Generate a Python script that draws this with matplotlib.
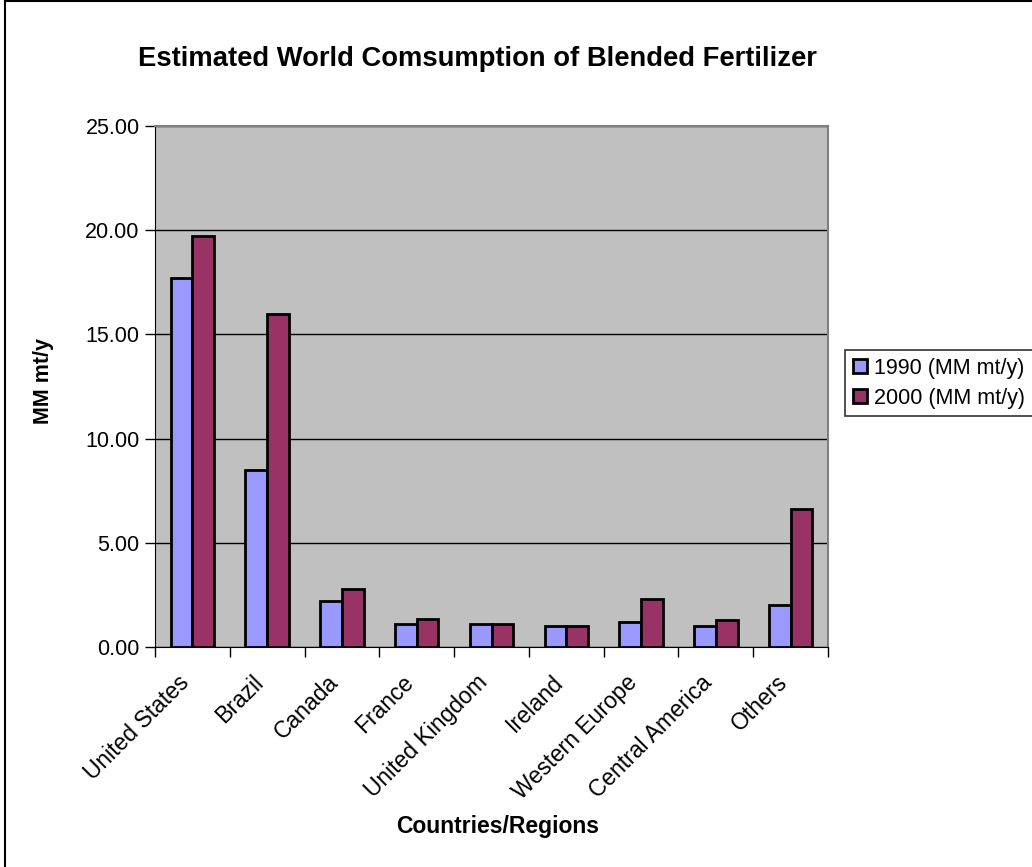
import matplotlib
matplotlib.use("Agg")
from matplotlib import pyplot as plt
from matplotlib.lines import Line2D
from matplotlib.transforms import ScaledTranslation
import numpy as np

# Blended fertilizer consumption by region, million metric tons per year
regions = ["United States", "Brazil", "Canada", "France", "United Kingdom",
           "Ireland", "Western Europe", "Central America", "Others"]
consumption_1990 = [17.7, 8.5, 2.2, 1.1, 1.1, 1.0, 1.2, 1.0, 2.0]
consumption_2000 = [19.7, 16.0, 2.8, 1.35, 1.1, 1.0, 2.3, 1.3, 6.6]
series_labels = ["1990 (MM mt/y)", "2000 (MM mt/y)"]
y_ticks = [0, 5, 10, 15, 20, 25]

plt.rcParams["font.family"] = ["Liberation Sans", "DejaVu Sans"]
FS = 15.5

fig = plt.figure(figsize=(10.32, 8.67), dpi=100)
ax = fig.add_axes([155 / 1032, 1 - 647 / 867, 673 / 1032, 521 / 867])

x = np.arange(len(regions))
bar_w = 0.29
ax.bar(x - bar_w / 2, consumption_1990, bar_w, color="#9999FF",
       edgecolor="black", linewidth=2, label=series_labels[0], zorder=3)
ax.bar(x + bar_w / 2, consumption_2000, bar_w, color="#993366",
       edgecolor="black", linewidth=2, label=series_labels[1], zorder=3)

ax.set_facecolor("#C0C0C0")
ax.set_xlim(-0.5, len(regions) - 0.5)
ax.set_ylim(0, 25)
ax.set_yticks(y_ticks)
ax.set_yticklabels([f"{v:.2f}" for v in y_ticks], fontsize=FS)
ax.yaxis.grid(True, color="black", linewidth=1, zorder=1)

# category ticks sit between groups, labels at group centres
ax.set_xticks(np.arange(len(regions) + 1) - 0.5)
ax.set_xticklabels([])
ax.set_xticks(x, minor=True)
ax.set_xticklabels(regions, minor=True, rotation=45, ha="right", va="center",
                   rotation_mode="anchor", fontsize=16.5)
ax.tick_params(axis="x", which="minor", length=0, pad=23)
ax.tick_params(axis="x", which="major", length=7, width=1, direction="out")
ax.tick_params(axis="y", length=7, width=1, direction="out", pad=4)
nudge = ScaledTranslation(-7 / 100, 0, fig.dpi_scale_trans)
for lbl in ax.get_xticklabels(minor=True):
    lbl.set_transform(lbl.get_transform() + nudge)

for side in ["top", "right"]:
    ax.spines[side].set_color("#808080")
    ax.spines[side].set_linewidth(1.5)
for side in ["left", "bottom"]:
    ax.spines[side].set_color("black")

ax.set_xlabel("Countries/Regions", fontsize=16.5, fontweight="bold")
ax.set_ylabel("MM mt/y", fontsize=FS, fontweight="bold")
ax.yaxis.set_label_coords(-(155 - 54) / 673, 0.51)
ax.xaxis.set_label_coords((498 - 155) / 673, -(815 - 647) / 521)

fig.text(477 / 1032, 1 - 59 / 867, "Estimated World Comsumption of Blended Fertilizer",
         ha="center", va="center", fontsize=19.7, fontweight="bold")

leg = fig.legend(loc="upper left", bbox_to_anchor=(845 / 1032, 1 - 350 / 867),
                 fontsize=FS, frameon=True, fancybox=False, edgecolor="black",
                 handlelength=0.65, handleheight=0.65, handletextpad=0.37,
                 borderpad=0.35, labelspacing=0.43, borderaxespad=0)
leg.get_frame().set_linewidth(1.2)

# chart border: left and top edges only, the rest runs off the canvas
fig.add_artist(Line2D([5 / 1032, 5 / 1032], [0, 1 - 1 / 867],
                      transform=fig.transFigure, color="black", linewidth=1.5))
fig.add_artist(Line2D([5 / 1032, 1], [1 - 1 / 867, 1 - 1 / 867],
                      transform=fig.transFigure, color="black", linewidth=1.5))

fig.savefig("out.png", dpi=100)
